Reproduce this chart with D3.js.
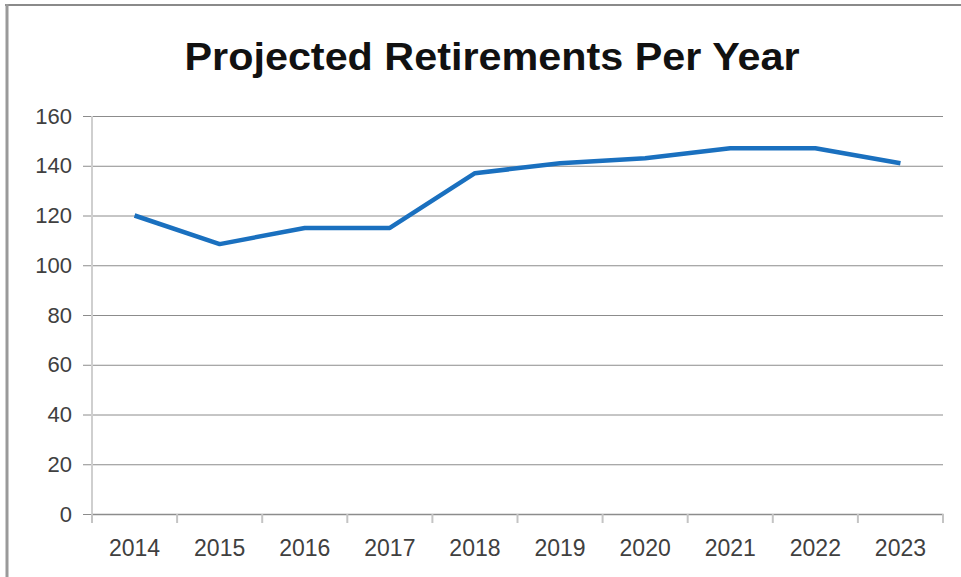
<!DOCTYPE html>
<html>
<head>
<meta charset="utf-8">
<script src="https://cdn.jsdelivr.net/npm/d3@7"></script>
<style>
  html, body { margin: 0; padding: 0; background: #fff; }
  svg { display: block; }
</style>
</head>
<body>
<svg id="chart" width="961" height="577"></svg>
<script>
const years = ["2014","2015","2016","2017","2018","2019","2020","2021","2022","2023"];
const retirements = [120, 108.5, 115, 115, 137, 141, 143, 147, 147, 141];
const yTicks = [0, 20, 40, 60, 80, 100, 120, 140, 160];
const titleText = "Projected Retirements Per Year";

const svg = d3.select("#chart");
const W = 961, H = 577;
const plot = { left: 92, right: 943, top: 116, bottom: 514 };

// frame
svg.append("rect").attr("x", 0).attr("y", 0).attr("width", W).attr("height", H).attr("fill", "#fff");
svg.append("line").attr("x1", 5).attr("x2", W).attr("y1", 5).attr("y2", 5)
  .attr("stroke", "#8a8a8a").attr("stroke-width", 2);
svg.append("line").attr("x1", 7).attr("x2", 7).attr("y1", 4).attr("y2", H)
  .attr("stroke", "#9a9a9a").attr("stroke-width", 3);

// title
svg.append("text")
  .attr("x", 492).attr("y", 70)
  .attr("text-anchor", "middle")
  .attr("font-family", "Liberation Sans, Arial, sans-serif")
  .attr("font-weight", "bold")
  .attr("font-size", 39)
  .attr("fill", "#111")
  .attr("textLength", 615)
  .attr("lengthAdjust", "spacingAndGlyphs")
  .text(titleText);

const x = d3.scaleBand().domain(years).range([plot.left, plot.right]).padding(0);
const y = d3.scaleLinear().domain([0, 160]).range([plot.bottom, plot.top]);

// gridlines
const gy = svg.append("g").attr("transform", `translate(${plot.right},0)`);
gy.call(d3.axisLeft(y).tickValues(yTicks).tickSize(plot.right - plot.left + 9).tickFormat(""));
gy.select(".domain").remove();
gy.selectAll(".tick line").attr("stroke", "#8c8c8c").attr("stroke-width", 1);

// y labels
const gyl = svg.append("g").attr("transform", `translate(${plot.left - 9},0)`);
gyl.call(d3.axisLeft(y).tickValues(yTicks).tickSize(0).tickPadding(11).tickFormat(d3.format("d")));
gyl.select(".domain").remove();
gyl.selectAll(".tick text")
  .attr("font-family", "Liberation Sans, Arial, sans-serif")
  .attr("font-size", 22)
  .attr("fill", "#404040");

// left axis line
svg.append("line").attr("x1", plot.left).attr("x2", plot.left)
  .attr("y1", plot.top).attr("y2", plot.bottom + 9)
  .attr("stroke", "#cfcfcf").attr("stroke-width", 2);

// x axis
const gx = svg.append("g").attr("transform", `translate(0,${plot.bottom})`);
gx.call(d3.axisBottom(x).tickSize(0).tickPadding(26));
gx.select(".domain").attr("stroke", "#8c8c8c").attr("stroke-width", 1.5);
gx.selectAll(".tick text")
  .attr("font-family", "Liberation Sans, Arial, sans-serif")
  .attr("font-size", 23)
  .attr("fill", "#404040");

// x boundary ticks
const boundaries = years.map(d => x(d)).concat([x(years[years.length - 1]) + x.bandwidth()]);
svg.append("g").selectAll("line").data(boundaries).join("line")
  .attr("x1", d => d).attr("x2", d => d)
  .attr("y1", plot.bottom).attr("y2", plot.bottom + 9)
  .attr("stroke", "#c4c4c4").attr("stroke-width", 2);

// line
const line = d3.line()
  .x((d, i) => x(years[i]) + x.bandwidth() / 2)
  .y(d => y(d));
svg.append("path")
  .datum(retirements)
  .attr("d", line)
  .attr("fill", "none")
  .attr("stroke", "#1a70bf")
  .attr("stroke-width", 4.5)
  .attr("stroke-linejoin", "round");
</script>
</body>
</html>
